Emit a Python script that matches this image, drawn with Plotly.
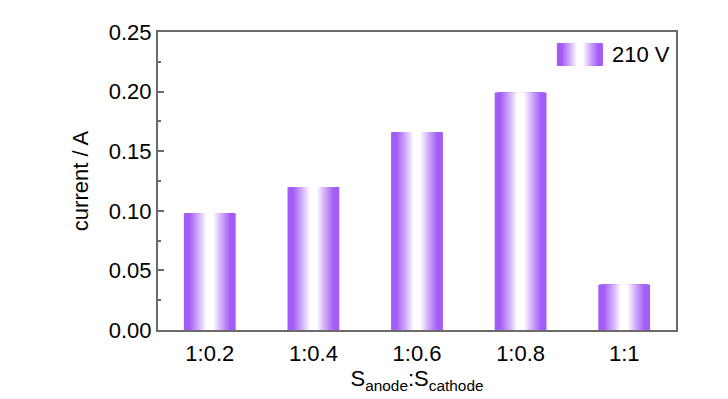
import plotly.graph_objects as go

categories = ["1:0.2", "1:0.4", "1:0.6", "1:0.8", "1:1"]
current_210V = [0.098, 0.120, 0.166, 0.199, 0.038]
series_name = "210 V"
y_ticks = [0.00, 0.05, 0.10, 0.15, 0.20, 0.25]

PURPLE = (164, 93, 245)
WHITE = (255, 255, 255)
FONT = "Liberation Sans Narrow, Arial Narrow, Liberation Sans, Arial"
AXIS = "#6b6b6b"
N = 40
BAR_W = 0.5


def mix(p):
    c = [round(WHITE[i] + (PURPLE[i] - WHITE[i]) * p) for i in range(3)]
    return f"rgb({c[0]},{c[1]},{c[2]})"


def profile(r):
    p = (r - 0.15) / 0.65
    p = max(0.0, min(1.0, p))
    return p ** 0.9


fig = go.Figure()
for k in range(N):
    r = 1 - k / N
    fig.add_trace(go.Bar(
        x=categories, y=current_210V, width=BAR_W * r,
        marker=dict(color=mix(profile(r)), line=dict(width=0)),
        showlegend=False, hoverinfo="skip" if k else None, name=series_name,
    ))

# legend swatch (gradient) drawn as paper shapes
sx0, sx1, sy0, sy1 = 0.770, 0.859, 0.887, 0.962
cx = (sx0 + sx1) / 2
hw = (sx1 - sx0) / 2
shapes = []
for k in range(N):
    r = 1 - k / N
    shapes.append(dict(type="rect", xref="paper", yref="paper",
                       x0=cx - hw * r, x1=cx + hw * r, y0=sy0, y1=sy1,
                       fillcolor=mix(profile(r)), line=dict(width=0), layer="above"))

fig.update_layout(
    width=720, height=391,
    margin=dict(l=150, r=52, t=14, b=67),
    paper_bgcolor="white", plot_bgcolor="white",
    barmode="overlay",
    font=dict(family=FONT, size=22, color="black"),
    shapes=shapes,
    annotations=[dict(xref="paper", yref="paper", x=0.872, y=(sy0 + sy1) / 2,
                      xanchor="left", yanchor="middle", text=series_name,
                      showarrow=False, font=dict(family=FONT, size=22, color="black"))],
    xaxis=dict(type="category", range=[-0.5, 4.5], showline=True, linecolor=AXIS,
               linewidth=2, mirror=True, ticks="", showgrid=False,
               tickfont=dict(size=22), ticklabelstandoff=3,
               title=dict(text="S<sub>anode</sub>:S<sub>cathode</sub>", standoff=5,
                          font=dict(size=22))),
    yaxis=dict(range=[0, 0.25], tickvals=y_ticks, tickformat=".2f", showline=True,
               linecolor=AXIS, linewidth=2, mirror=True, ticks="inside", ticklen=6,
               tickwidth=2, tickcolor=AXIS, showgrid=False, zeroline=False,
               minor=dict(ticks="inside", ticklen=3, tickwidth=2, tickcolor=AXIS, dtick=0.025),
               tickfont=dict(size=22),
               title=dict(text="current / A", standoff=14, font=dict(size=22))),
)

fig.write_html("out.html")
